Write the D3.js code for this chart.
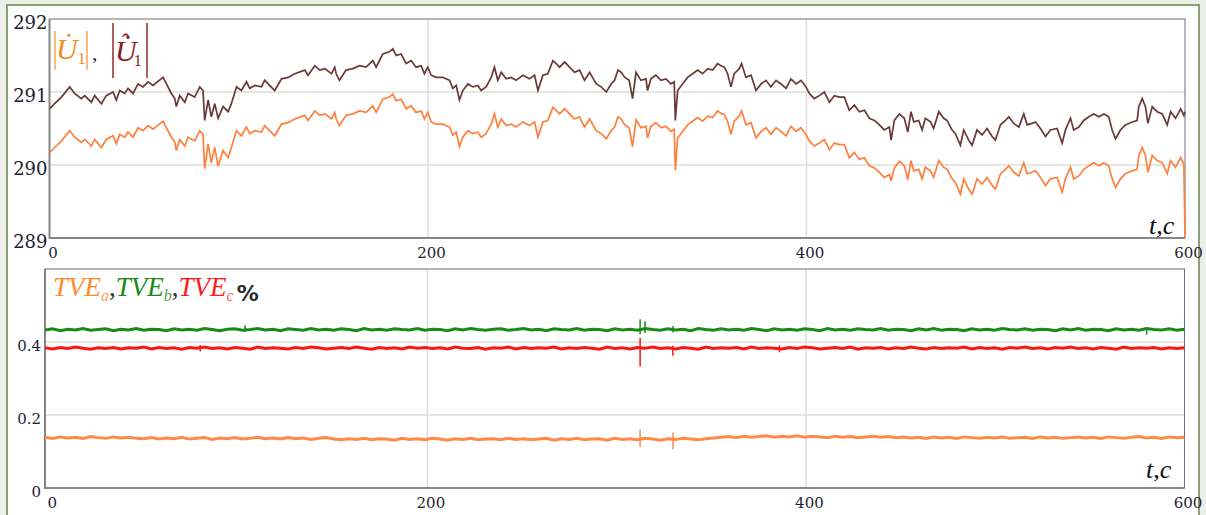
<!DOCTYPE html>
<html>
<head>
<meta charset="utf-8">
<title>U1 and TVE</title>
<script src="https://cdn.jsdelivr.net/npm/d3@7/dist/d3.min.js"></script>
<style>
  body { margin: 0; background: #eceee8; }
  svg { display: block; }
  .tick text { font-family: "DejaVu Serif", serif; fill: #1e2230; }
</style>
</head>
<body>
<script>
// ---- top panel: |U1| measured and estimated, V ----
var topTime = [0,2.7,6.3,10.7,13.3,16.8,18.6,22.1,23.9,27.4,
  30,33.6,35.3,37.1,39.7,41.5,44.1,46.8,49.4,52.1,
  54.7,60,61.8,64.4,66.2,67,68.8,71.5,73.2,76.7,
  79.4,81.1,82,83.8,85.5,87.3,89.1,91.7,94.4,96.1,
  98.8,101.4,104.1,105.8,108.5,112,113.7,119,122.6,126.1,
  129.6,134.9,136.6,140.2,142.8,145.5,149,150.7,151.5,153.2,
  156.7,160.3,163.8,167.3,170.8,172.6,176.1,179.6,181.4,183.2,
  185.8,188.5,191.1,193.7,196.4,198.1,199.9,201.7,204.3,207.8,
  211.4,213.1,214.9,216.6,218.4,221.1,223.7,226.3,228.1,230.7,
  233.4,235.1,236.9,238.7,241.3,243.9,246.6,250.1,253.6,256.3,
  258.1,260.7,263.3,266,267.7,269.5,272.2,274.8,277.4,280.1,
  282.7,285.4,288.9,291.5,294.2,296.8,298.6,300.4,302.1,304,
  306.3,308.1,309.9,312.5,315.2,316,317.8,320.4,323.1,325.7,
  328.4,330.1,330.7,331.9,334.5,337.2,339.8,342.5,345.1,347.8,
  350.4,353,354.8,356.6,358.3,360.1,361.8,364.5,365.7,368,
  370.7,373.3,376,378.6,381.2,383.9,386.5,389.2,391.8,394.5,
  397.1,399.7,401.5,404.1,406.8,409.4,412.1,414.7,417.4,420,
  422.6,425.3,427.9,430.6,433.2,435.9,438.5,441.1,443.8,444.7,
  446.4,449.1,451.7,453.5,455.2,456.7,459.3,461.1,462.8,465.5,
  467.2,469.9,472.5,474.3,476.9,478.7,481.3,483.1,485.7,487.5,
  490.1,492.8,495.4,498.1,499.8,502.5,505.1,506.9,509.5,512.2,
  514.8,516.6,519.2,521,523.6,526.3,528.9,532.4,535.1,536.8,
  539.5,541.2,543.9,546.5,549.2,551.8,554.5,557.1,559.7,561.5,
  563.3,565.9,568.5,572.1,574.7,575.6,577.4,579.1,580.4,582.7,
  585.3,588,590.6,592.4,595,597.7,599.4,600];

// estimated |U1| (dark)
var u1Est = [290.77,290.84,290.93,291.07,290.98,290.91,290.95,290.86,290.95,290.84,
  290.95,291.00,290.89,291.02,290.98,291.05,290.98,291.11,291.07,291.14,
  291.09,291.20,291.11,290.98,290.91,290.80,290.95,290.86,290.98,290.93,
  291.07,291.02,290.61,290.89,290.66,290.84,290.64,290.80,290.73,290.84,
  291.07,291.02,291.14,291.05,291.09,291.07,291.16,291.02,291.18,291.20,
  291.25,291.30,291.23,291.36,291.30,291.32,291.25,291.34,291.25,291.16,
  291.30,291.32,291.36,291.34,291.43,291.34,291.52,291.55,291.59,291.50,
  291.52,291.39,291.43,291.34,291.36,291.25,291.34,291.23,291.20,291.20,
  291.16,291.05,291.09,290.89,291.02,291.11,291.07,291.09,291.02,291.07,
  291.20,291.34,291.16,291.27,291.18,291.20,291.16,291.23,291.18,291.23,
  291.02,291.23,291.25,291.43,291.39,291.34,291.41,291.34,291.27,291.30,
  291.16,291.27,291.11,291.07,291.00,291.11,291.16,291.30,291.27,291.20,
  291.16,290.91,291.27,291.16,291.18,291.02,291.18,291.23,291.16,291.18,
  291.11,291.14,290.61,291.02,291.11,291.20,291.25,291.30,291.25,291.32,
  291.30,291.39,291.36,291.34,291.25,291.07,291.25,291.32,291.39,291.20,
  291.23,291.02,291.11,291.16,291.07,291.16,291.11,291.05,291.18,291.11,
  291.16,291.07,290.98,290.91,290.95,291.00,290.86,290.95,290.93,290.93,
  290.75,290.82,290.73,290.75,290.64,290.61,290.55,290.48,290.52,290.34,
  290.61,290.70,290.64,290.45,290.73,290.59,290.61,290.48,290.64,290.59,
  290.50,290.73,290.64,290.61,290.48,290.43,290.27,290.48,290.34,290.27,
  290.48,290.41,290.50,290.39,290.34,290.55,290.61,290.66,290.57,290.52,
  290.70,290.55,290.57,290.59,290.50,290.39,290.48,290.50,290.30,290.48,
  290.64,290.48,290.52,290.61,290.66,290.70,290.66,290.70,290.66,290.48,
  290.36,290.48,290.55,290.59,290.61,290.80,290.91,290.80,290.57,290.80,
  290.73,290.70,290.55,290.73,290.64,290.77,290.68,290.73];

// measured |U1| (orange)
var u1Meas = [290.17,290.24,290.33,290.47,290.38,290.31,290.35,290.26,290.35,290.24,
  290.35,290.40,290.29,290.42,290.38,290.45,290.38,290.51,290.47,290.54,
  290.49,290.60,290.51,290.38,290.31,290.20,290.35,290.26,290.38,290.33,
  290.47,290.42,289.95,290.29,290.03,290.24,289.98,290.20,290.10,290.24,
  290.47,290.40,290.52,290.43,290.47,290.45,290.54,290.40,290.56,290.58,
  290.63,290.68,290.61,290.74,290.68,290.70,290.63,290.72,290.63,290.54,
  290.68,290.70,290.74,290.72,290.81,290.72,290.90,290.93,290.97,290.88,
  290.90,290.77,290.81,290.72,290.74,290.63,290.72,290.59,290.56,290.56,
  290.52,290.41,290.45,290.25,290.38,290.47,290.43,290.45,290.38,290.43,
  290.56,290.70,290.52,290.63,290.54,290.56,290.52,290.59,290.54,290.59,
  290.38,290.59,290.61,290.79,290.75,290.70,290.77,290.70,290.63,290.66,
  290.52,290.63,290.47,290.43,290.36,290.47,290.52,290.66,290.63,290.55,
  290.51,290.25,290.62,290.51,290.53,290.37,290.53,290.58,290.51,290.53,
  290.46,290.49,289.93,290.37,290.46,290.55,290.60,290.65,290.60,290.67,
  290.65,290.74,290.71,290.69,290.60,290.42,290.60,290.67,290.74,290.55,
  290.58,290.37,290.46,290.51,290.42,290.51,290.46,290.40,290.53,290.46,
  290.51,290.42,290.33,290.26,290.30,290.35,290.21,290.30,290.28,290.28,
  290.10,290.17,290.08,290.10,289.99,289.96,289.90,289.83,289.87,289.78,
  289.96,290.05,289.99,289.80,290.06,289.92,289.94,289.81,289.97,289.92,
  289.83,290.06,289.97,289.94,289.81,289.76,289.60,289.81,289.67,289.60,
  289.81,289.74,289.83,289.72,289.67,289.88,289.94,289.99,289.90,289.85,
  290.03,289.88,289.90,289.92,289.83,289.72,289.81,289.83,289.63,289.81,
  289.97,289.81,289.85,289.94,289.99,290.03,289.99,290.03,289.99,289.81,
  289.69,289.81,289.88,289.92,289.94,290.13,290.24,290.13,289.90,290.13,
  290.06,290.03,289.88,290.06,289.97,290.10,290.01,289.00];

var topYTicks = [289, 290, 291, 292];
var xTicks = [0, 200, 400, 600];

// ---- bottom panel: TVE of phases a, b, c, % (151 samples over -2..600 s) ----
var botTime = d3.range(151).map(function(i) { return -2 + i * 602 / 150; });

var tveA = [0.139,0.136,0.140,0.137,0.139,0.136,0.141,0.138,0.136,0.140,
  0.137,0.139,0.136,0.135,0.138,0.134,0.137,0.135,0.139,0.134,
  0.136,0.138,0.133,0.137,0.135,0.138,0.134,0.136,0.139,0.135,
  0.137,0.134,0.138,0.135,0.137,0.133,0.136,0.138,0.134,0.132,
  0.135,0.133,0.136,0.132,0.135,0.134,0.131,0.136,0.133,0.135,
  0.132,0.136,0.134,0.131,0.135,0.133,0.136,0.132,0.134,0.135,
  0.132,0.136,0.133,0.135,0.132,0.134,0.136,0.131,0.135,0.133,
  0.136,0.132,0.134,0.135,0.131,0.136,0.133,0.135,0.132,0.136,
  0.134,0.131,0.135,0.133,0.136,0.134,0.132,0.135,0.137,0.139,
  0.141,0.138,0.142,0.139,0.141,0.143,0.139,0.142,0.140,0.143,
  0.139,0.142,0.140,0.138,0.142,0.139,0.141,0.138,0.140,0.142,
  0.139,0.141,0.138,0.140,0.137,0.139,0.136,0.140,0.137,0.139,
  0.136,0.140,0.138,0.136,0.139,0.137,0.140,0.136,0.138,0.139,
  0.136,0.140,0.137,0.139,0.136,0.138,0.140,0.137,0.139,0.136,
  0.140,0.138,0.136,0.139,0.141,0.137,0.139,0.136,0.140,0.138,0.139];

var tveB = [0.433,0.436,0.431,0.435,0.433,0.437,0.432,0.434,0.436,0.431,
  0.435,0.433,0.437,0.432,0.435,0.434,0.431,0.436,0.433,0.435,
  0.432,0.437,0.434,0.431,0.435,0.436,0.432,0.434,0.437,0.433,
  0.435,0.431,0.436,0.434,0.432,0.437,0.433,0.435,0.432,0.436,
  0.434,0.431,0.437,0.433,0.435,0.432,0.436,0.434,0.433,0.437,
  0.432,0.435,0.434,0.431,0.436,0.433,0.437,0.434,0.432,0.435,
  0.436,0.432,0.434,0.437,0.433,0.435,0.431,0.436,0.434,0.433,
  0.437,0.432,0.435,0.434,0.431,0.436,0.433,0.435,0.432,0.437,
  0.434,0.432,0.436,0.433,0.435,0.431,0.437,0.434,0.432,0.436,
  0.433,0.435,0.432,0.437,0.434,0.431,0.436,0.433,0.435,0.432,
  0.436,0.434,0.431,0.437,0.433,0.435,0.432,0.436,0.434,0.433,
  0.437,0.432,0.435,0.434,0.431,0.436,0.433,0.437,0.432,0.435,
  0.434,0.431,0.436,0.433,0.435,0.432,0.437,0.434,0.433,0.436,
  0.432,0.435,0.434,0.431,0.436,0.433,0.437,0.432,0.435,0.434,
  0.431,0.436,0.433,0.435,0.432,0.437,0.434,0.433,0.436,0.432,0.435];

var tveC = [0.384,0.381,0.385,0.382,0.386,0.383,0.380,0.384,0.382,0.385,
  0.381,0.384,0.383,0.386,0.381,0.385,0.382,0.384,0.380,0.385,
  0.383,0.386,0.382,0.384,0.381,0.385,0.383,0.380,0.386,0.382,
  0.384,0.383,0.381,0.385,0.382,0.386,0.384,0.381,0.383,0.385,
  0.382,0.386,0.383,0.380,0.385,0.382,0.384,0.381,0.386,0.383,
  0.385,0.382,0.384,0.381,0.386,0.383,0.382,0.385,0.380,0.384,
  0.383,0.386,0.381,0.385,0.382,0.384,0.383,0.386,0.381,0.384,
  0.382,0.385,0.383,0.380,0.386,0.382,0.384,0.381,0.385,0.383,
  0.386,0.382,0.384,0.381,0.385,0.383,0.380,0.386,0.382,0.384,
  0.383,0.385,0.381,0.386,0.382,0.384,0.383,0.381,0.385,0.382,
  0.386,0.384,0.381,0.383,0.385,0.382,0.386,0.380,0.384,0.383,
  0.385,0.381,0.384,0.382,0.386,0.383,0.381,0.385,0.382,0.384,
  0.383,0.386,0.381,0.385,0.382,0.384,0.380,0.385,0.383,0.386,
  0.382,0.384,0.381,0.385,0.383,0.386,0.382,0.384,0.381,0.385,
  0.383,0.380,0.386,0.382,0.384,0.383,0.385,0.381,0.384,0.382,0.384];

// short bursts: [time, low, high]
var spikesA = [[312.4, 0.112, 0.160], [329.8, 0.106, 0.152]];
var spikesB = [[103.7, 0.428, 0.446], [312.4, 0.421, 0.462], [315, 0.425, 0.457], [329.8, 0.426, 0.444], [580, 0.420, 0.440]];
var spikesC = [[80, 0.374, 0.392], [312.4, 0.333, 0.411], [329.7, 0.362, 0.390], [386, 0.372, 0.391]];

var botYTicks = [0, 0.2, 0.4];
var botGrid = [0.2, 0.4];

var colEst = '#6b3838', colMeas = '#ff7f3c';
var colA = '#ff8a45', colB = '#178a17', colC = '#ff1414';

var w = 1206, h = 515;
var svg = d3.select('body').append('svg').attr('width', w).attr('height', h);

svg.append('rect').attr('x', 7).attr('y', 5).attr('width', 1192).attr('height', 520)
  .attr('fill', '#ffffff').attr('stroke', '#8c9e76').attr('stroke-width', 2);

// box: plot frame in pixels; xDomain maps onto xRange
function panel(id, box, xDomain, xRange, yDomain, yTickVals, yGrid, yFmt, yFont) {
  var x = d3.scaleLinear().domain(xDomain).range(xRange);
  var y = d3.scaleLinear().domain(yDomain).range([box.bottom, box.top]);
  var g = svg.append('g');

  g.append('clipPath').attr('id', id).append('rect')
    .attr('x', box.left).attr('y', box.top - 1)
    .attr('width', box.right - box.left + 1).attr('height', box.bottom - box.top + 2);

  // grid
  g.selectAll('.hg').data(yGrid).enter().append('line')
    .attr('x1', box.left).attr('x2', box.right)
    .attr('y1', function(d) { return y(d); }).attr('y2', function(d) { return y(d); })
    .attr('stroke', '#dedede').attr('stroke-width', 1.5);
  g.selectAll('.vg').data([200, 400]).enter().append('line')
    .attr('x1', function(d) { return x(d); }).attr('x2', function(d) { return x(d); })
    .attr('y1', box.top).attr('y2', box.bottom)
    .attr('stroke', '#dedede').attr('stroke-width', 1.5);

  // frame
  g.append('rect').attr('x', box.left).attr('y', box.top)
    .attr('width', box.right - box.left).attr('height', box.bottom - box.top)
    .attr('fill', 'none').attr('stroke', '#6e6e6e').attr('stroke-width', 1);
  g.append('path')
    .attr('d', 'M' + box.left + ',' + box.top + 'V' + box.bottom + 'H' + box.right)
    .attr('fill', 'none').attr('stroke', '#858585').attr('stroke-width', 2);

  // axes labels
  var ax = g.append('g').attr('transform', 'translate(0,' + box.bottom + ')')
    .call(d3.axisBottom(x).tickValues(xTicks).tickSize(0).tickPadding(9).tickFormat(d3.format('d')));
  ax.select('.domain').remove();
  ax.selectAll('text').attr('font-size', 15).attr('dx', 3);

  var ay = g.append('g').attr('transform', 'translate(' + box.left + ',0)')
    .call(d3.axisLeft(y).tickValues(yTickVals).tickSize(0).tickPadding(yFont.pad).tickFormat(yFmt));
  ay.select('.domain').remove();
  ay.selectAll('text').attr('font-size', yFont.size).attr('dy', yFont.dy);

  return { x: x, y: y, g: g, clip: 'url(#' + id + ')' };
}

var topP = panel('clipTop', { left: 49.5, right: 1185, top: 19, bottom: 238 }, [0, 600], [49.5, 1185],
  [289, 292], topYTicks, [290, 291], d3.format('d'), { size: 18, dy: '0.5em', pad: 2 });
var botP = panel('clipBot', { left: 45, right: 1184.5, top: 269, bottom: 488 }, [-2, 600], [45, 1184.5],
  [0, 0.6], botYTicks, botGrid, function(d) { return d === 0 ? '0' : d3.format('.1f')(d); },
  { size: 15, dy: '0.55em', pad: 4 });

// ---- top series ----
var lineTop = d3.line()
  .x(function(d) { return topP.x(d[0]); })
  .y(function(d) { return topP.y(d[1]); });

topP.g.append('path').datum(d3.zip(topTime, u1Est))
  .attr('d', lineTop).attr('fill', 'none').attr('stroke', colEst)
  .attr('stroke-width', 1.7).attr('clip-path', topP.clip);
topP.g.append('path').datum(d3.zip(topTime, u1Meas))
  .attr('d', lineTop).attr('fill', 'none').attr('stroke', colMeas)
  .attr('stroke-width', 1.7).attr('clip-path', topP.clip);

// ---- bottom series ----
var lineBot = d3.line()
  .x(function(d) { return botP.x(d[0]); })
  .y(function(d) { return botP.y(d[1]); });

[[tveB, spikesB, colB], [tveC, spikesC, colC], [tveA, spikesA, colA]].forEach(function(s) {
  botP.g.append('path').datum(d3.zip(botTime, s[0]))
    .attr('d', lineBot).attr('fill', 'none').attr('stroke', s[2])
    .attr('stroke-width', 3).attr('clip-path', botP.clip);
  botP.g.selectAll(null).data(s[1]).enter().append('line')
    .attr('x1', function(d) { return botP.x(d[0]); }).attr('x2', function(d) { return botP.x(d[0]); })
    .attr('y1', function(d) { return botP.y(d[1]); }).attr('y2', function(d) { return botP.y(d[2]); })
    .attr('stroke', s[2]).attr('stroke-width', 1.5);
});

// ---- labels ----
var serif = '"Liberation Serif", "Times New Roman", serif';
var lab = svg.append('g').attr('font-family', serif);

function symbol(x, y, col, hat) {
  var t = lab.append('text').attr('x', x).attr('y', y).attr('font-size', 30).attr('fill', col);
  t.append('tspan').attr('font-style', 'italic').text('U\u0307');
  if (hat) {
    t.append('tspan').attr('font-size', 24).attr('dx', -15).attr('dy', -11).text('\u02C6');
    t.append('tspan').attr('font-size', 16).attr('dx', 4).attr('dy', 16).text('1');
  } else {
    t.append('tspan').attr('font-size', 16).attr('dy', 5).text('1');
  }
}

// |U1| (orange)
lab.append('line').attr('x1', 55).attr('x2', 55).attr('y1', 31).attr('y2', 70).attr('stroke', '#f7a040').attr('stroke-width', 1.4);
symbol(56, 59, '#f28c1e', false);
lab.append('line').attr('x1', 87).attr('x2', 87).attr('y1', 31).attr('y2', 70).attr('stroke', '#f7a040').attr('stroke-width', 1.4);
lab.append('text').attr('x', 92).attr('y', 60).attr('font-size', 22).attr('fill', '#333').text(',');

// |U1 hat| (dark red)
lab.append('line').attr('x1', 113).attr('x2', 113).attr('y1', 23).attr('y2', 78).attr('stroke', '#8b1c1c').attr('stroke-width', 1.4);
symbol(115, 61, '#8b1c1c', true);
lab.append('line').attr('x1', 147).attr('x2', 147).attr('y1', 23).attr('y2', 78).attr('stroke', '#8b1c1c').attr('stroke-width', 1.4);

// TVE_a, TVE_b, TVE_c %
var tve = lab.append('text').attr('x', 53).attr('y', 296).attr('font-size', 27).attr('font-style', 'italic');
[['TVE', 'a', '#ff8a2a', '#f7a05a', ','], ['TVE', 'b', '#138a13', '#4ca04c', ','], ['TVE', 'c', '#ff1a1a', '#ff5a5a', '']]
  .forEach(function(p) {
    tve.append('tspan').attr('fill', p[2]).text(p[0]);
    tve.append('tspan').attr('fill', p[3]).attr('font-size', 16).attr('dy', 5).text(p[1]);
    tve.append('tspan').attr('fill', '#333').attr('dy', -5).attr('font-style', 'normal').text(p[4]);
  });
tve.append('tspan').attr('fill', '#2a2a2a').attr('font-style', 'normal').attr('font-weight', 'bold')
  .attr('font-family', '"DejaVu Sans", sans-serif').attr('font-size', 22).attr('dx', 3).text('%');

// axis names
[[1149, 234], [1146, 478]].forEach(function(p) {
  lab.append('text').attr('x', p[0]).attr('y', p[1]).attr('font-size', 26)
    .attr('font-style', 'italic').attr('fill', '#111').text('t,c');
});
</script>
</body>
</html>
